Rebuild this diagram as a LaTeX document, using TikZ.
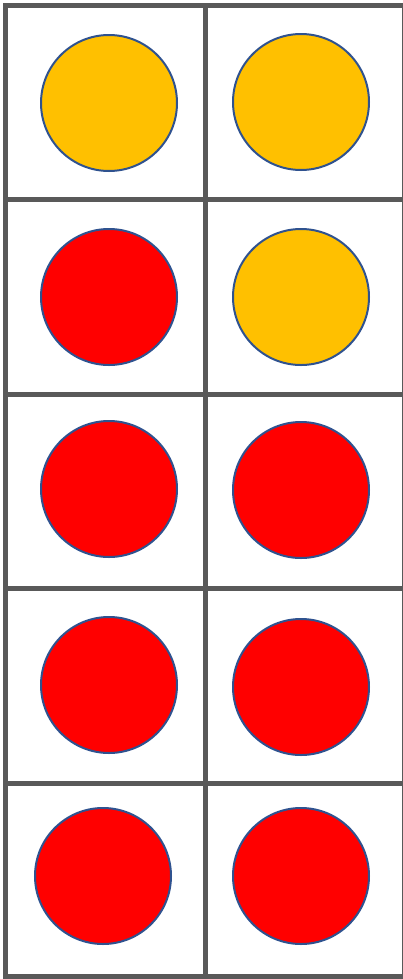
\documentclass[tikz,border=0pt]{standalone}
\usepackage{tikz}
\usetikzlibrary{positioning, calc}

\definecolor{gridgray}{HTML}{595959}
\definecolor{dotorange}{HTML}{FFC000}
\definecolor{dotred}{HTML}{FF0000}
\definecolor{dotedge}{HTML}{2F528F}

\begin{document}
\begin{tikzpicture}[
    x=0.75pt, y=-0.75pt,
    dot/.style={draw=dotedge, line width=1.5pt, circle, minimum size=136*0.75pt, inner sep=0pt},
    yes/.style={dot, fill=dotorange},
    no/.style={dot, fill=dotred},
    frame/.style={draw=gridgray, line width=3.75pt}
]
    \useasboundingbox (0,0) rectangle (403,979);

    % Grid
    \draw[frame] (5.5,5) -- (403,5);
    \foreach \y in {199,394,588,783} {
        \draw[frame] (5.5,\y) -- (403,\y);
    }
    \draw[frame] (5.5,976.5) -- (403,976.5);
    \draw[frame] (5.5,3) -- (5.5,979);
    \draw[frame] (205,3) -- (205,979);
    \draw[draw=gridgray, line width=1.5pt] (402.5,3) -- (402.5,979);

    % Dots
    \node[yes] (d11) at (109,103) {};
    \node[yes] (d12) at (301,102) {};
    \node[no]  (d21) at (109,297) {};
    \node[yes] (d22) at (301,297) {};
    \node[no]  (d31) at (109,489) {};
    \node[no]  (d32) at (301,490) {};
    \node[no]  (d41) at (109,685) {};
    \node[no]  (d42) at (301,687) {};
    \node[no]  (d51) at (103,876) {};
    \node[no]  (d52) at (301,876) {};
\end{tikzpicture}
\end{document}
